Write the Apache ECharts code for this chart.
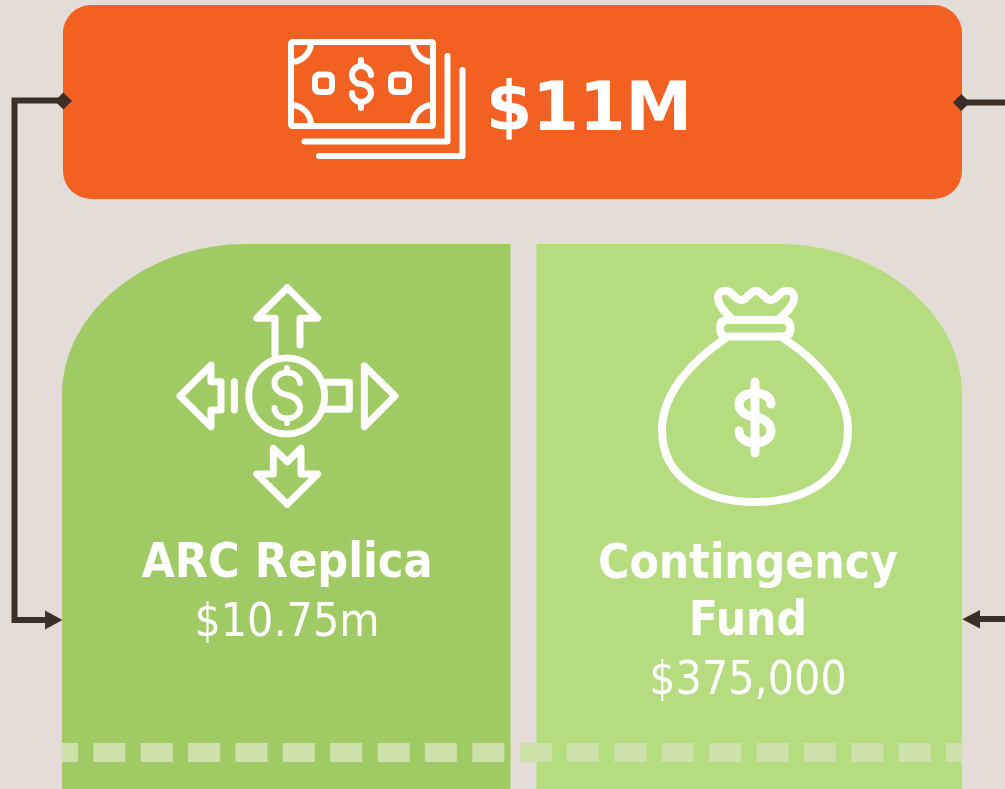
<!DOCTYPE html>
<html>
<head>
<meta charset="utf-8">
<title>Funding</title>
<style>
html,body{margin:0;padding:0;background:#E4DCD7;}
#main{width:1005px;height:789px;}
</style>
<script src="https://cdn.jsdelivr.net/npm/echarts@6/dist/echarts.min.js"></script>
</head>
<body>
<div id="main"></div>
<script>
var totalLabel = '$11M';
var fundNames = ['ARC Replica', 'Contingency', 'Fund'];
var fundAmounts = ['$10.75m', '$375,000'];

var white = '#FFFFFF';
var dark = '#3A3028';

// a path gets fitted to its rect, so pin the box to the full page
function pathShape(d) {
  return {pathData: 'M0 0 M1005 789 ' + d, x: 0, y: 0, width: 1005, height: 789, layout: 'cover'};
}
function icon(d, width) {
  return {
    type: 'path',
    shape: pathShape(d),
    style: {fill: null, stroke: white, lineWidth: width, lineCap: 'round', lineJoin: 'round'}
  };
}
function solid(d, color) {
  return {type: 'path', shape: pathShape(d), style: {fill: color}};
}
function wire(d) {
  return {
    type: 'path',
    shape: pathShape(d),
    style: {fill: null, stroke: dark, lineWidth: 6, lineJoin: 'miter'}
  };
}
function label(str, x, y, size, bold, family) {
  return {
    type: 'text',
    x: x,
    y: y,
    style: {
      text: str,
      fill: white,
      fontSize: size,
      fontWeight: bold ? 'bold' : 'normal',
      fontFamily: family || '"DejaVu Sans Condensed", "DejaVu Sans"',
      align: 'center',
      verticalAlign: 'middle'
    }
  };
}

var elements = [
  // boxes
  {type: 'rect', shape: {x: 63, y: 5, width: 899, height: 194, r: 28}, style: {fill: '#F26122'}},
  solid('M62 789 L62 395 C62 310 150 244 245 244 L510.5 244 L510.5 789 Z', '#A0CB64'),
  solid('M536.5 789 L536.5 244 L780 244 C875 244 962 310 962 395 L962 789 Z', '#B5DD7F'),
  {
    type: 'line',
    shape: {x1: 62, y1: 752.5, x2: 962, y2: 752.5},
    style: {stroke: '#CDE2AB', lineWidth: 19, lineDash: [32, 15.37], lineDashOffset: 16}
  },

  // connectors
  wire('M63 100.5 L14.5 100.5 L14.5 620 L48 620'),
  solid('M63.3 92.5 L72 101 L63.3 109.5 L54.8 101 Z', dark),
  solid('M62.5 620 L45 610.5 L45 629.5 Z', dark),
  wire('M961 102.5 L1005 102.5'),
  solid('M961.3 94 L970 102.5 L961.3 111 L952.8 102.5 Z', dark),
  wire('M1005 619 L977 619'),
  solid('M962.3 619.3 L980 610 L980 628.5 Z', dark),

  // money icon
  icon('M293 42 L431 42 Q433 42 433 44 L433 124 Q433 126 431 126 L293 126 Q291 126 291 124 L291 44 Q291 42 293 42 Z', 6),
  icon('M311 43 A20 20 0 0 1 292 62 M413 43 A20 20 0 0 0 432 62 M292 105 A20 20 0 0 1 311 125 M432 105 A20 20 0 0 0 413 125', 6),
  icon('M320 74.5 L327 74.5 Q332 74.5 332 79.5 L332 87 Q332 92 327 92 L320 92 Q315 92 315 87 L315 79.5 Q315 74.5 320 74.5 Z', 6),
  icon('M396 74.5 L404 74.5 Q409 74.5 409 79.5 L409 87 Q409 92 404 92 L396 92 Q391 92 391 87 L391 79.5 Q391 74.5 396 74.5 Z', 6),
  icon('M371 75 C371 70 366 66 361 66 C356 66 352 70 352 75 C352 80 356 84 361 84 C366 84 371 88 371 93 C371 98 366 102 361 102 C356 102 352 98 352 93 M361 60 L361 66 M361 102 L361 108', 6),
  icon('M304.5 141.5 L447.5 141.5 L447.5 56', 6),
  icon('M319 156 L462.5 156 L462.5 70', 6),
  label(totalLabel, 589, 113, 67, true, '"DejaVu Sans"'),

  // arrows icon
  {type: 'circle', shape: {cx: 286.7, cy: 396, r: 38}, style: {fill: null, stroke: white, lineWidth: 7}},
  icon('M275 355 L275 318.3 L256.7 318.3 L287.3 287.7 L317.7 318.3 L300 318.3 L300 345', 7),
  icon('M211 365 L180 396 L211 426.7 L211 410 L221 410 L221 381.7 L211 381.7 Z', 7),
  icon('M234.3 381.7 L234.3 410', 7),
  icon('M327 382.3 L349.3 382.3 L349.3 409.3 L327 409.3', 7),
  icon('M364.3 365.7 L395 396 L364.3 426.7 Z', 7),
  icon('M273.3 448.3 L287.3 461.7 L301 448.3 L301 474 L317.7 474 L287.3 504.3 L256.7 474 L273.3 474 Z', 7),
  icon('M300 383 C300 377 294 372.5 287 372.5 C280 372.5 274.5 377 274.5 383 C274.5 390 281 394 287 395 C294 396 300 401 300 408 C300 414 294 418.5 287 418.5 C280 418.5 274.5 414 274.5 408 M287 368 L287 372 M287 419 L287 423', 6),

  // bag icon
  icon('M726 338 C690 362 662 395 662 430 C662 478 705 502 755 502 C805 502 848 478 848 430 C848 395 820 362 783 338', 8),
  icon('M728 320 L782 320 Q790.5 320 790.5 328 Q790.5 336.5 782 336.5 L728 336.5 Q720 336.5 720 328 Q720 320 728 320 Z', 8),
  icon('M732 319 C724 311 719 306 718 299 C717 293 722 290 727 291 C733 292 735 300 741 300 C748 300 749 291 756 291 C763 291 764 300 771 300 C777 300 779 292 785 291 C790 290 795 293 794 299 C793 306 787 312 779 319', 8),
  icon('M771 404 C771 397 764 393 755 393 C746 393 739 397 739 404 C739 412 747 416 755 417 C764 418 771 423 771 431 C771 438 764 443 755 443 C746 443 739 438 739 431 M755 382 L755 453', 9),

  // texts
  label(fundNames[0], 287, 565, 48, true),
  label(fundAmounts[0], 287, 624, 46, false),
  label(fundNames[1], 748, 566, 47.5, true),
  label(fundNames[2], 748, 623, 47.5, true),
  label(fundAmounts[1], 748, 682, 46, false)
];

var chart = echarts.init(document.getElementById('main'), null, {renderer: 'canvas'});
chart.setOption({
  backgroundColor: '#E4DCD7',
  animation: false,
  series: [{
    type: 'custom',
    coordinateSystem: 'none',
    silent: true,
    data: [0],
    renderItem: function () {
      return {type: 'group', children: elements};
    }
  }]
});
</script>
</body>
</html>
